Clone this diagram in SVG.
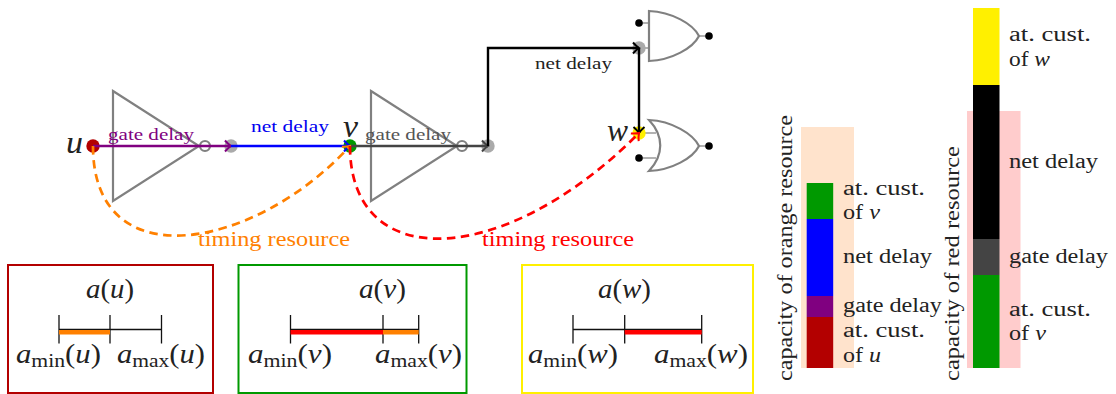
<svg xmlns="http://www.w3.org/2000/svg" width="1116" height="394" viewBox="0 0 1116 394">
<style>
text{font-family:"Liberation Serif",serif;fill:#222}
.m{font-size:27px;font-style:italic}
.v{font-size:31px;font-style:italic}
.n{font-style:normal}
.l{font-size:20px}
.s{font-size:16px}
.t{font-size:21px}
.g{fill:none;stroke:#808080;stroke-width:2.200}
.lead{fill:none;stroke:#999;stroke-width:1.500}
.box{fill:none;stroke-width:2}
.tl{stroke:#111;stroke-width:1.300;fill:none}
.d{fill:none;stroke-width:2.700;stroke-dasharray:8.500 5.500}
</style>
<defs>
<marker id="aP" markerUnits="userSpaceOnUse" markerWidth="14" markerHeight="14" refX="8" refY="7" orient="auto"><path d="M2 1.500Q5 5 8 7Q5 9 2 12.500" fill="none" stroke="#800080" stroke-width="2"/></marker>
<marker id="aB" markerUnits="userSpaceOnUse" markerWidth="14" markerHeight="14" refX="8" refY="7" orient="auto"><path d="M2 1.500Q5 5 8 7Q5 9 2 12.500" fill="none" stroke="#00f" stroke-width="2"/></marker>
<marker id="aD" markerUnits="userSpaceOnUse" markerWidth="14" markerHeight="14" refX="8" refY="7" orient="auto"><path d="M2 1.500Q5 5 8 7Q5 9 2 12.500" fill="none" stroke="#444" stroke-width="2"/></marker>
<marker id="aK" markerUnits="userSpaceOnUse" markerWidth="14" markerHeight="14" refX="8" refY="7" orient="auto"><path d="M2 1.500Q5 5 8 7Q5 9 2 12.500" fill="none" stroke="#000" stroke-width="2"/></marker>
<marker id="aO" markerUnits="userSpaceOnUse" markerWidth="14" markerHeight="14" refX="8" refY="7" orient="auto"><path d="M2 1.500Q5 5 8 7Q5 9 2 12.500" fill="none" stroke="#ff8000" stroke-width="2"/></marker>
<marker id="aR" markerUnits="userSpaceOnUse" markerWidth="14" markerHeight="14" refX="8" refY="7" orient="auto"><path d="M2 1.500Q5 5 8 7Q5 9 2 12.500" fill="none" stroke="#f00" stroke-width="2"/></marker>
</defs>

<g id="gate-inv1"><path class="g" d="M113 91L199 146L113 201Z"/><circle class="g" cx="205" cy="146" r="5"/></g>
<g id="gate-inv2"><path class="g" d="M371 91L457 146L371 201Z"/><circle class="g" cx="462" cy="146" r="5"/></g>
<g id="gate-and">
<path class="lead" d="M639 23H649M639 48H649M699 36H709"/>
<path class="g" d="M649 11C672 12 693 24 699 36C693 48 672 60 649 61Z"/>
<circle cx="639" cy="23" r="3.800"/><circle cx="709" cy="36" r="3.800"/>
</g>
<g id="gate-or">
<path class="lead" d="M639 133H656M639 158H656M699 146H709"/>
<path class="g" d="M649 120C672 121 693 134 699 146C693 158 672 170 649 171C664 155 664 136 649 120Z"/>
<circle cx="639" cy="158" r="3.800"/><circle cx="709" cy="146" r="3.800"/>
</g>
<g id="node-u"><circle cx="93" cy="146" r="6.700" fill="#b30000"/><text class="v" x="66" y="153" textLength="17" lengthAdjust="spacingAndGlyphs">u</text></g>
<g id="pin-1"><circle cx="231" cy="146" r="6.700" fill="#aaa"/></g>
<g id="node-v"><circle cx="350" cy="146" r="6.700" fill="#009900"/><text class="v" x="343" y="137" textLength="15" lengthAdjust="spacingAndGlyphs">v</text></g>
<g id="pin-2"><circle cx="488" cy="146" r="6.700" fill="#aaa"/></g>
<g id="pin-3"><circle cx="639" cy="48" r="6.700" fill="#aaa"/></g>
<g id="node-w"><circle cx="639" cy="133" r="6.700" fill="#fff000"/><text class="v" x="607" y="141" textLength="21" lengthAdjust="spacingAndGlyphs">w</text></g>

<g id="connectors">
<path d="M93 146H231" fill="none" stroke="#800080" stroke-width="2.400" marker-end="url(#aP)"/>
<path d="M231 146H350" fill="none" stroke="#00f" stroke-width="2.400" marker-end="url(#aB)"/>
<path d="M350 146H488" fill="none" stroke="#444" stroke-width="2.400" marker-end="url(#aD)"/>
<path d="M488 146V48H639" fill="none" stroke="#000" stroke-width="2.400" marker-end="url(#aK)"/>
<path d="M639 48V133" fill="none" stroke="#000" stroke-width="2.400" marker-end="url(#aK)"/>
<path class="d" d="M93 146C93 280 255 250 350 146" stroke="#ff8000" marker-end="url(#aO)"/>
<path class="d" d="M350 146C350 275 505 268 639 133" stroke="#f00" marker-end="url(#aR)"/>
</g>

<g id="delay-labels">
<text class="s" x="108" y="140" textLength="86" lengthAdjust="spacingAndGlyphs" style="fill:#800080">gate delay</text>
<text class="s" x="251" y="132" textLength="78" lengthAdjust="spacingAndGlyphs" style="fill:#0000f0">net delay</text>
<text class="s" x="365" y="140" textLength="86" lengthAdjust="spacingAndGlyphs" style="fill:#555">gate delay</text>
<text class="s" x="535" y="69" textLength="77" lengthAdjust="spacingAndGlyphs">net delay</text>
<text class="t" x="198" y="246" textLength="152" lengthAdjust="spacingAndGlyphs" style="fill:#ff8000">timing resource</text>
<text class="t" x="482" y="246" textLength="152" lengthAdjust="spacingAndGlyphs" style="fill:#f00">timing resource</text>
</g>

<g id="box-u">
<rect class="box" x="8" y="265" width="205" height="128" stroke="#b30000"/>
<text class="m" x="86" y="298" textLength="48" lengthAdjust="spacingAndGlyphs">a<tspan class="n">(</tspan>u<tspan class="n">)</tspan></text>
<path class="tl" d="M59 315V343.500M110 315V343.500M161.500 315V343.500M59 329.500H161.500"/>
<rect x="59" y="330" width="51" height="4.500" fill="#ff8000"/>
<text class="m" x="16" y="363" textLength="85" lengthAdjust="spacingAndGlyphs">a<tspan class="n" font-size="19" dy="4">min</tspan><tspan class="n" dy="-4">(</tspan>u<tspan class="n">)</tspan></text>
<text class="m" x="117" y="363" textLength="88" lengthAdjust="spacingAndGlyphs">a<tspan class="n" font-size="19" dy="4">max</tspan><tspan class="n" dy="-4">(</tspan>u<tspan class="n">)</tspan></text>
</g>
<g id="box-v">
<rect class="box" x="238.500" y="265" width="228" height="128" stroke="#009900"/>
<text class="m" x="359" y="298" textLength="47" lengthAdjust="spacingAndGlyphs">a<tspan class="n">(</tspan>v<tspan class="n">)</tspan></text>
<path class="tl" d="M290.500 315V343.500M383 315V343.500M418.700 315V343.500M290.500 329.500H418.700"/>
<rect x="290.500" y="330" width="92.500" height="4.500" fill="#f00"/>
<rect x="383" y="330" width="35.700" height="4.500" fill="#ff8000"/>
<text class="m" x="248" y="363" textLength="84" lengthAdjust="spacingAndGlyphs">a<tspan class="n" font-size="19" dy="4">min</tspan><tspan class="n" dy="-4">(</tspan>v<tspan class="n">)</tspan></text>
<text class="m" x="375" y="363" textLength="87" lengthAdjust="spacingAndGlyphs">a<tspan class="n" font-size="19" dy="4">max</tspan><tspan class="n" dy="-4">(</tspan>v<tspan class="n">)</tspan></text>
</g>
<g id="box-w">
<rect class="box" x="522" y="265" width="231" height="128" stroke="#fff000"/>
<text class="m" x="598" y="298" textLength="53" lengthAdjust="spacingAndGlyphs">a<tspan class="n">(</tspan>w<tspan class="n">)</tspan></text>
<path class="tl" d="M573 315V343.500M624.700 315V343.500M701.700 315V343.500M573 329.500H701.700"/>
<rect x="624.700" y="330" width="77" height="4.500" fill="#f00"/>
<text class="m" x="528" y="363" textLength="90" lengthAdjust="spacingAndGlyphs">a<tspan class="n" font-size="19" dy="4">min</tspan><tspan class="n" dy="-4">(</tspan>w<tspan class="n">)</tspan></text>
<text class="m" x="654" y="363" textLength="94" lengthAdjust="spacingAndGlyphs">a<tspan class="n" font-size="19" dy="4">max</tspan><tspan class="n" dy="-4">(</tspan>w<tspan class="n">)</tspan></text>
</g>

<g id="bar-orange">
<rect x="801" y="127" width="53" height="241" fill="#ffe3cc"/>
<rect x="806.700" y="183" width="26.500" height="36" fill="#009900"/>
<rect x="806.700" y="219" width="26.500" height="77" fill="#00f"/>
<rect x="806.700" y="296" width="26.500" height="21" fill="#800080"/>
<rect x="806.700" y="317" width="26.500" height="51" fill="#b30000"/>
<text class="l" transform="translate(792 381) rotate(-90)" textLength="266" lengthAdjust="spacingAndGlyphs">capacity of orange resource</text>
<text class="l" x="843" y="195" textLength="82" lengthAdjust="spacingAndGlyphs">at. cust.</text>
<text class="l" x="843" y="219" textLength="37" lengthAdjust="spacingAndGlyphs">of <tspan font-style="italic">v</tspan></text>
<text class="l" x="843" y="263" textLength="89" lengthAdjust="spacingAndGlyphs">net delay</text>
<text class="l" x="843" y="312" textLength="99" lengthAdjust="spacingAndGlyphs">gate delay</text>
<text class="l" x="843" y="337" textLength="82" lengthAdjust="spacingAndGlyphs">at. cust.</text>
<text class="l" x="843" y="362" textLength="38" lengthAdjust="spacingAndGlyphs">of <tspan font-style="italic">u</tspan></text>
</g>
<g id="bar-red">
<rect x="967" y="111" width="53.500" height="257" fill="#ffcccc"/>
<rect x="973" y="8" width="26.500" height="77" fill="#fff000"/>
<rect x="973" y="85" width="26.500" height="154" fill="#000"/>
<rect x="973" y="239" width="26.500" height="36" fill="#444"/>
<rect x="973" y="275" width="26.500" height="93" fill="#009900"/>
<text class="l" transform="translate(959 381) rotate(-90)" textLength="235" lengthAdjust="spacingAndGlyphs">capacity of red resource</text>
<text class="l" x="1009" y="41" textLength="82" lengthAdjust="spacingAndGlyphs">at. cust.</text>
<text class="l" x="1009" y="66" textLength="41" lengthAdjust="spacingAndGlyphs">of <tspan font-style="italic">w</tspan></text>
<text class="l" x="1009" y="168" textLength="89" lengthAdjust="spacingAndGlyphs">net delay</text>
<text class="l" x="1009" y="263" textLength="99" lengthAdjust="spacingAndGlyphs">gate delay</text>
<text class="l" x="1009" y="316" textLength="82" lengthAdjust="spacingAndGlyphs">at. cust.</text>
<text class="l" x="1009" y="340" textLength="37" lengthAdjust="spacingAndGlyphs">of <tspan font-style="italic">v</tspan></text>
</g>
</svg>
